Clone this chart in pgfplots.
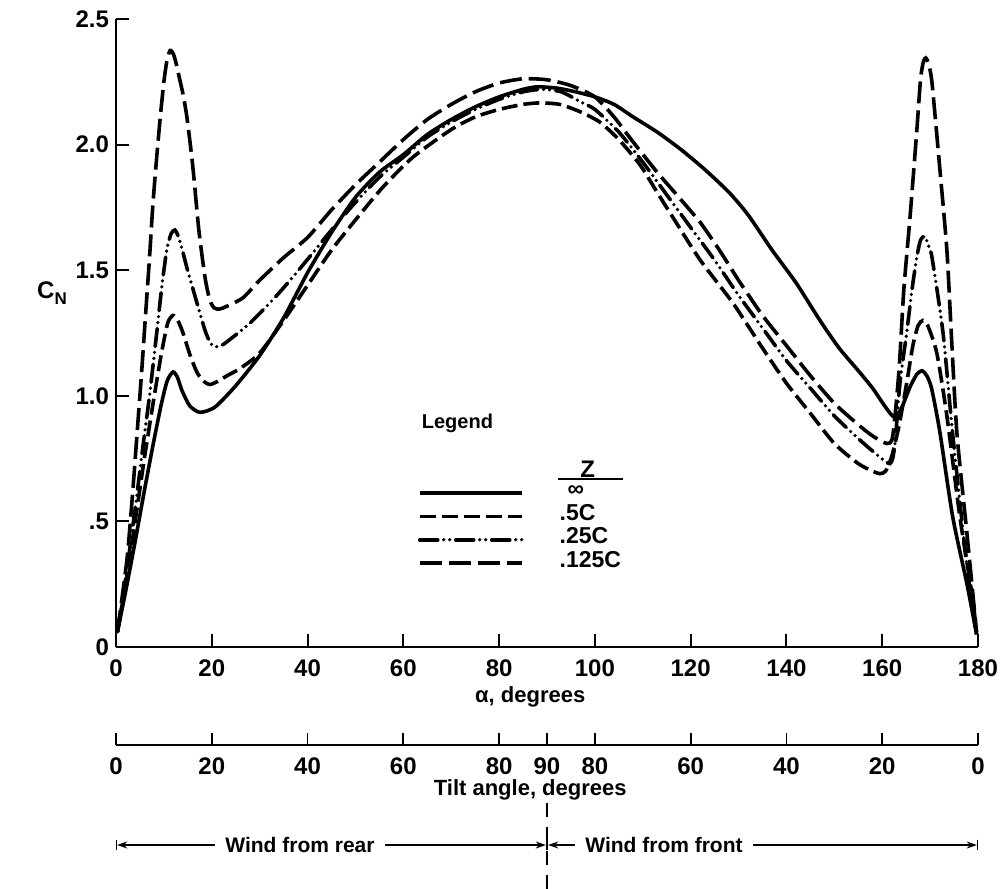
\documentclass[border=0pt]{standalone}
\usepackage{pgfplots}
\pgfplotsset{compat=1.18}
\usepackage{fontspec}
\setmainfont{Liberation Sans}
\usetikzlibrary{arrows.meta}
\begin{document}
\bfseries
\begin{tikzpicture}
\path[use as bounding box] (-58pt,-121pt) rectangle (445.5pt,323.5pt);
\begin{axis}[
  at={(0pt,0pt)}, anchor=south west,
  scale only axis, width=431pt, height=314pt,
  xmin=0, xmax=180, ymin=0, ymax=2.5,
  axis lines*=left,
  axis line style={line width=1.3pt},
  tick align=inside, major tick length=6.5pt,
  tick style={line width=1pt, black},
  xtick={0,20,40,60,80,100,120,140,160,180},
  xticklabels={0,20,40,60,80,100,120,140,160,180},
  ytick={0,0.5,1,1.5,2,2.5},
  yticklabels={0,.5,1.0,1.5,2.0,2.5},
  ticklabel style={font=\fontsize{12}{14}\selectfont},
  xticklabel style={yshift=-3pt},
  clip=false,
  legend style={at={(axis cs:63.05,0.66)}, anchor=north west, draw=none, fill=none,
    inner sep=0pt, outer sep=0pt, row sep=0pt, column sep=0pt,
    font=\fontsize{11.5}{13}\selectfont,
    nodes={inner sep=0pt, text height=7.85pt, text depth=3.85pt}},
  legend cell align=left,
  legend image code/.code={\draw[#1] (0pt,0pt) -- (51pt,0pt); \path[draw=none,fill=none] (0pt,0pt) rectangle (70pt,0.1pt);},
]
% Z = infinity (solid)
\addplot[black, line width=1.8pt, smooth, tension=0.4] coordinates {
(0.3,0.06)(2,0.22)(4,0.42)(6,0.63)(8,0.83)(9.5,0.97)(10.7,1.06)(11.9,1.095)(12.8,1.075)(13.8,1.02)(15.4,0.96)(17.3,0.935)(19,0.94)(21,0.96)(25,1.04)(30,1.16)(35,1.31)(40,1.49)(45,1.65)(50,1.79)(55,1.89)(60,1.96)(65,2.04)(70,2.10)(75,2.15)(80,2.19)(85,2.22)(88,2.23)(92,2.225)(96,2.21)(100,2.19)(104,2.16)(108,2.11)(113,2.05)(118,1.98)(123,1.90)(128,1.81)(132,1.72)(137,1.58)(142,1.45)(147,1.30)(151,1.19)(155,1.10)(158,1.03)(160.5,0.96)(162.5,0.915)(164,0.95)(165.8,1.035)(167.2,1.085)(168.3,1.10)(169.3,1.08)(170.3,1.03)(172,0.86)(174.7,0.52)(177.7,0.25)(179.7,0.05)
};
\addlegendentry{\hspace{4pt}∞}
% Z = .5C
\addplot[black, line width=1.8pt, smooth, tension=0.4, dash pattern=on 8pt off 3pt] coordinates {
(0.3,0.06)(2,0.25)(4,0.5)(6,0.76)(8,1.0)(9.5,1.17)(10.8,1.29)(11.9,1.32)(12.9,1.30)(14,1.25)(15.5,1.16)(17,1.09)(18.5,1.055)(19.6,1.045)(21,1.055)(23.2,1.08)(26,1.11)(30,1.17)(35,1.30)(40,1.44)(45,1.58)(50,1.70)(55.7,1.83)(62,1.95)(70,2.06)(75,2.11)(80,2.14)(85,2.16)(88.5,2.166)(92.7,2.16)(97,2.13)(101,2.09)(105,2.02)(109.4,1.92)(113,1.81)(116.3,1.71)(122,1.54)(128.8,1.37)(135,1.19)(140,1.05)(145,0.93)(150,0.81)(155,0.73)(158,0.70)(159.5,0.69)(160.7,0.70)(162,0.76)(163.5,0.88)(165.1,1.05)(166.4,1.2)(167.5,1.28)(168.5,1.30)(169.5,1.28)(171.4,1.17)(173.5,0.92)(176.2,0.52)(178.9,0.19)(179.7,0.05)
};
\addlegendentry{.5C}
% Z = .25C
\addplot[black, line width=1.8pt, smooth, tension=0.4, line cap=round, dash pattern=on 9pt off 3pt on 0pt off 3pt on 0pt off 3pt] coordinates {
(0.3,0.06)(2,0.27)(4,0.55)(5.5,0.78)(7,1.0)(8.5,1.25)(9.6,1.44)(10.6,1.58)(11.5,1.645)(12.3,1.66)(13.1,1.63)(14,1.57)(14.8,1.51)(16,1.43)(16.9,1.37)(18.6,1.26)(19.7,1.21)(20.7,1.195)(22,1.2)(23.5,1.22)(28,1.29)(33.6,1.40)(39,1.52)(45,1.66)(50,1.77)(55,1.87)(60,1.95)(65,2.03)(70,2.09)(75,2.14)(80,2.18)(85,2.21)(89,2.22)(93,2.21)(97,2.17)(100,2.14)(105,2.05)(110,1.93)(115,1.80)(120,1.67)(125,1.54)(130,1.40)(135,1.27)(140,1.14)(145,1.03)(150,0.92)(155,0.83)(158,0.78)(161.6,0.73)(162.6,0.80)(163.7,1.05)(165.1,1.25)(166.2,1.42)(167.2,1.55)(168,1.62)(168.9,1.635)(169.6,1.6)(170.4,1.55)(172.7,1.25)(174.7,0.85)(177.7,0.32)(179.6,0.06)
};
\addlegendentry{.25C}
% Z = .125C
\addplot[black, line width=1.8pt, smooth, tension=0.4, dash pattern=on 11pt off 3.5pt] coordinates {
(0.3,0.06)(2.3,0.35)(3.5,0.62)(4.4,0.85)(5.3,1.08)(6.2,1.33)(7.0,1.55)(7.7,1.76)(8.5,1.95)(9.3,2.12)(10,2.25)(10.6,2.33)(11.3,2.375)(12,2.36)(12.6,2.32)(13.3,2.26)(14,2.2)(14.8,2.11)(16,1.92)(17.3,1.66)(18.6,1.47)(19.6,1.38)(20.5,1.35)(21.5,1.345)(23,1.355)(26.5,1.39)(30,1.46)(35,1.55)(40,1.63)(45,1.74)(50,1.84)(55,1.93)(60,2.02)(65,2.10)(70,2.16)(75,2.21)(80,2.245)(85,2.262)(90,2.258)(95,2.235)(100,2.19)(104,2.11)(108,2.01)(113,1.89)(118,1.78)(122,1.69)(126,1.58)(130,1.46)(135,1.32)(140,1.2)(145,1.08)(150,0.97)(155,0.885)(158,0.84)(161,0.81)(162.2,0.84)(163.5,1.1)(164.5,1.42)(165.8,1.71)(167.2,2.05)(168,2.26)(168.6,2.33)(169.1,2.345)(169.7,2.32)(170.4,2.245)(172,1.91)(173.5,1.58)(174.5,1.22)(175.6,0.85)(177.7,0.45)(179.7,0.06)
};
\addlegendentry{.125C}
\node[anchor=west, font=\fontsize{10}{12}\selectfont] at (axis cs:62.4,0.89) {Legend};
\node[font=\fontsize{12}{14}\selectfont] at (axis cs:98.5,0.709) {Z};
\draw[line width=0.9pt] (axis cs:92.3,0.669) -- (axis cs:105.8,0.669);
\node[font=\fontsize{11}{13}\selectfont] at (axis cs:86.5,0) [yshift=-25pt] {α, degrees};
\node at (rel axis cs:0,0) [xshift=-32pt, yshift=177pt] {\fontsize{12}{14}\selectfont C\raisebox{-0.5ex}{\fontsize{8.5}{10}\selectfont N}};
\end{axis}
\begin{axis}[
  at={(0pt,-49pt)}, anchor=south west,
  scale only axis, width=431pt, height=10pt,
  xmin=0, xmax=180, ymin=0, ymax=1,
  axis x line*=bottom, axis y line=none,
  axis line style={line width=1.1pt},
  tick align=inside, major tick length=6pt,
  tick style={line width=0.9pt, black},
  xtick={0,20,40,60,80,90,100,120,140,160,180},
  xticklabels={0,20,40,60,80,90,80,60,40,20,0},
  ticklabel style={font=\fontsize{12}{14}\selectfont},
  xticklabel style={yshift=-3pt},
  ytick=\empty,
  clip=false,
]
\node[font=\fontsize{11}{13}\selectfont] at (axis cs:86.5,0) [yshift=-22.5pt] {Tilt angle, degrees};
\end{axis}
\draw[line width=0.6pt, |<->|, >={Stealth[length=5pt,width=3.5pt]}] (0pt,-99pt) -- (215.5pt,-99pt);
\draw[line width=0.6pt, |<->|, >={Stealth[length=5pt,width=3.5pt]}] (215.5pt,-99pt) -- (431pt,-99pt);
\node[fill=white, inner xsep=5pt, font=\fontsize{10.5}{12}\selectfont] at (92pt,-99pt) {Wind from rear};
\node[fill=white, inner xsep=5pt, font=\fontsize{10.5}{12}\selectfont] at (274pt,-99pt) {Wind from front};
\draw[line width=0.8pt, dash pattern=on 7pt off 5pt] (215.5pt,-78pt) -- (215.5pt,-121pt);
\end{tikzpicture}
\end{document}
